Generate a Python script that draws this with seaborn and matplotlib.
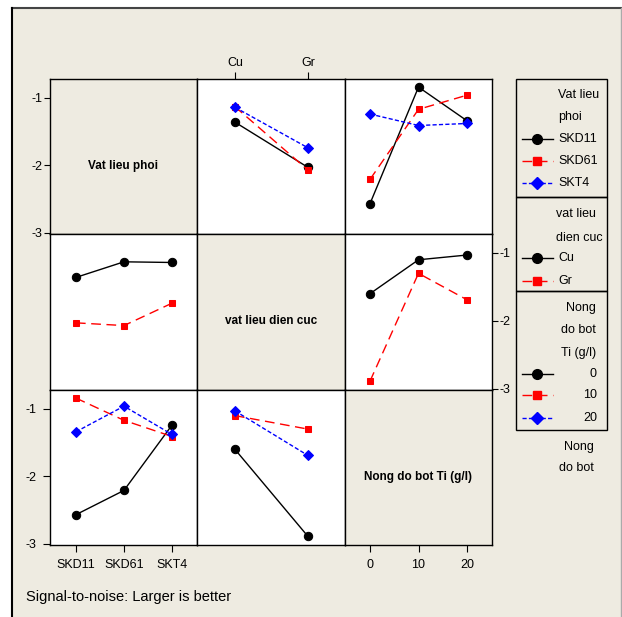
import pandas as pd
import matplotlib.pyplot as plt
import seaborn as sns
from matplotlib import font_manager

# factor levels
phoi = ["SKD11", "SKD61", "SKT4"]
dien_cuc = ["Cu", "Gr"]
nong_do = [0, 10, 20]

# S/N means: rows = vat lieu phoi, cols = vat lieu dien cuc
phoi_dien = [[-1.36, -2.03],
             [-1.13, -2.07],
             [-1.14, -1.74]]
# rows = vat lieu phoi, cols = nong do bot
phoi_nong = [[-2.57, -0.84, -1.34],
             [-2.21, -1.17, -0.96],
             [-1.24, -1.41, -1.38]]
# rows = vat lieu dien cuc, cols = nong do bot
dien_nong = [[-1.60, -1.10, -1.03],
             [-2.89, -1.30, -1.69]]

factor_names = ["Vat lieu phoi", "vat lieu dien cuc", "Nong do bot Ti (g/l)"]
y_ticks = [-1, -2, -3]
footer = "Signal-to-noise: Larger is better"

names = {f.name for f in font_manager.fontManager.ttflist}
fam = "Liberation Sans Narrow" if "Liberation Sans Narrow" in names else "Liberation Sans"
plt.rcParams["font.family"] = [fam, "DejaVu Sans"]
plt.rcParams["axes.unicode_minus"] = False

BG = "#EEEBE1"
W, H = 622, 617
colors = ["black", "red", "blue"]
markers = ["o", "s", "D"]
msizes = [6, 5, 5.5]
dash_list = ["", (7, 4), (3, 1.6)]

levels = [phoi, dien_cuc, [str(v) for v in nong_do]]
xpos = [[1, 2, 3], [1, 2], nong_do]
xlims = [(0.46, 3.52), (0.48, 2.51), (-5.15, 25.15)]
ylim = (-3.02, -0.72)


def table(r, c):
    if (r, c) == (0, 1):
        return phoi_dien
    if (r, c) == (1, 0):
        return [list(v) for v in zip(*phoi_dien)]
    if (r, c) == (0, 2):
        return phoi_nong
    if (r, c) == (2, 0):
        return [list(v) for v in zip(*phoi_nong)]
    if (r, c) == (1, 2):
        return dien_nong
    return [list(v) for v in zip(*dien_nong)]


fig = plt.figure(figsize=(W / 100, H / 100), dpi=100, facecolor="white")

# background / frame / legend layer in pixel coords
bg = fig.add_axes([0, 0, 1, 1], zorder=0)
bg.set_xlim(0, W)
bg.set_ylim(H, 0)
bg.axis("off")
bg.add_patch(plt.Rectangle((12, 8), 609, 620, facecolor=BG, edgecolor="none"))
bg.plot([12, 621], [8, 8], color="#444444", lw=1.5)
bg.plot([12, 12], [8, H], color="black", lw=1.5)
bg.plot([621, 621], [8, H], color="#aaaaaa", lw=1)

col_x = [50, 197, 345]
col_w = [147, 148, 147]
row_y = [79, 234, 390]
row_h = [155, 156, 155]

for r in range(3):
    for c in range(3):
        ax = fig.add_axes([col_x[c] / W, 1 - (row_y[r] + row_h[r]) / H,
                           col_w[c] / W, row_h[r] / H], zorder=2)
        if r == c:
            ax.set_facecolor(BG)
            ax.text(0.5, 0.44, factor_names[r], transform=ax.transAxes,
                    ha="center", va="center", fontsize=8.5, fontweight="bold")
        else:
            t = table(r, c)
            df = pd.DataFrame({
                "x": [xpos[c][j] for i in range(len(t)) for j in range(len(t[i]))],
                "y": [t[i][j] for i in range(len(t)) for j in range(len(t[i]))],
                "trace": [levels[r][i] for i in range(len(t)) for j in range(len(t[i]))],
            })
            lv = levels[r]
            for i, name in enumerate(lv):
                sns.lineplot(data=df[df["trace"] == name], x="x", y="y",
                             color=colors[i], marker=markers[i], markersize=msizes[i],
                             markeredgecolor=colors[i], lw=1, legend=False, ax=ax)
                if dash_list[i]:
                    ax.lines[-1].set_dashes(dash_list[i])
        ax.set_xlim(*xlims[c])
        ax.set_ylim(*ylim)
        ax.set_xlabel("")
        ax.set_ylabel("")
        for s in ax.spines.values():
            s.set_linewidth(1.0)
            s.set_color("black")
        ax.tick_params(left=False, bottom=False, labelleft=False, labelbottom=False,
                       labelsize=9, length=4, width=0.8, pad=1.5)
        if c == 0 and r in (0, 2):
            ax.set_yticks(y_ticks)
            ax.tick_params(left=True, labelleft=True)
        if r == 1 and c == 2:
            ax.yaxis.tick_right()
            ax.set_yticks(y_ticks)
            ax.tick_params(right=True, labelright=True)
        if r == 0 and c == 1:
            ax.xaxis.tick_top()
            ax.set_xticks(xpos[1], dien_cuc)
            ax.tick_params(top=True, labeltop=True, length=5, pad=2)
        if r == 2 and c == 0:
            ax.set_xticks(xpos[0], phoi)
            ax.tick_params(bottom=True, labelbottom=True, length=5, pad=5)
        if r == 2 and c == 2:
            ax.set_xticks(nong_do, [str(v) for v in nong_do])
            ax.tick_params(bottom=True, labelbottom=True, length=5, pad=5)

# legend boxes
boxes = [(79, 197), (197, 291), (291, 430)]
for y0, y1 in boxes:
    bg.add_patch(plt.Rectangle((516, y0), 91, y1 - y0, facecolor="none",
                               edgecolor="black", lw=1, zorder=3))

fs = 9
bg.text(558, 95, "Vat lieu", fontsize=fs, va="center")
bg.text(558, 117, "phoi", fontsize=fs, va="center")
bg.text(556, 214, "vat lieu", fontsize=fs, va="center")
bg.text(556, 238, "dien cuc", fontsize=fs, va="center")
bg.text(596, 308, "Nong", fontsize=fs, va="center", ha="right")
bg.text(596, 330, "do bot", fontsize=fs, va="center", ha="right")
bg.text(596, 353, "Ti (g/l)", fontsize=fs, va="center", ha="right")
bg.text(594, 447, "Nong", fontsize=fs, va="center", ha="right")
bg.text(594, 468, "do bot", fontsize=fs, va="center", ha="right")

entries = [(phoi, [139, 161, 183], 558, "left"),
           (dien_cuc, [258, 281], 558, "left"),
           ([str(v) for v in nong_do], [374, 395, 418], 597, "right")]
for labs, ys, tx, ha in entries:
    for i, (lab, yy) in enumerate(zip(labs, ys)):
        ln, = bg.plot([522, 537, 553], [yy, yy, yy], color=colors[i], lw=1,
                      marker=markers[i], markersize=msizes[i] + 1, markevery=[1])
        if dash_list[i]:
            ln.set_dashes(dash_list[i])
        bg.text(tx, yy, lab, fontsize=fs, va="center", ha=ha)

bg.text(26, 597, footer, fontsize=10.5, va="center")

fig.savefig("out.png", dpi=100, facecolor="white")
